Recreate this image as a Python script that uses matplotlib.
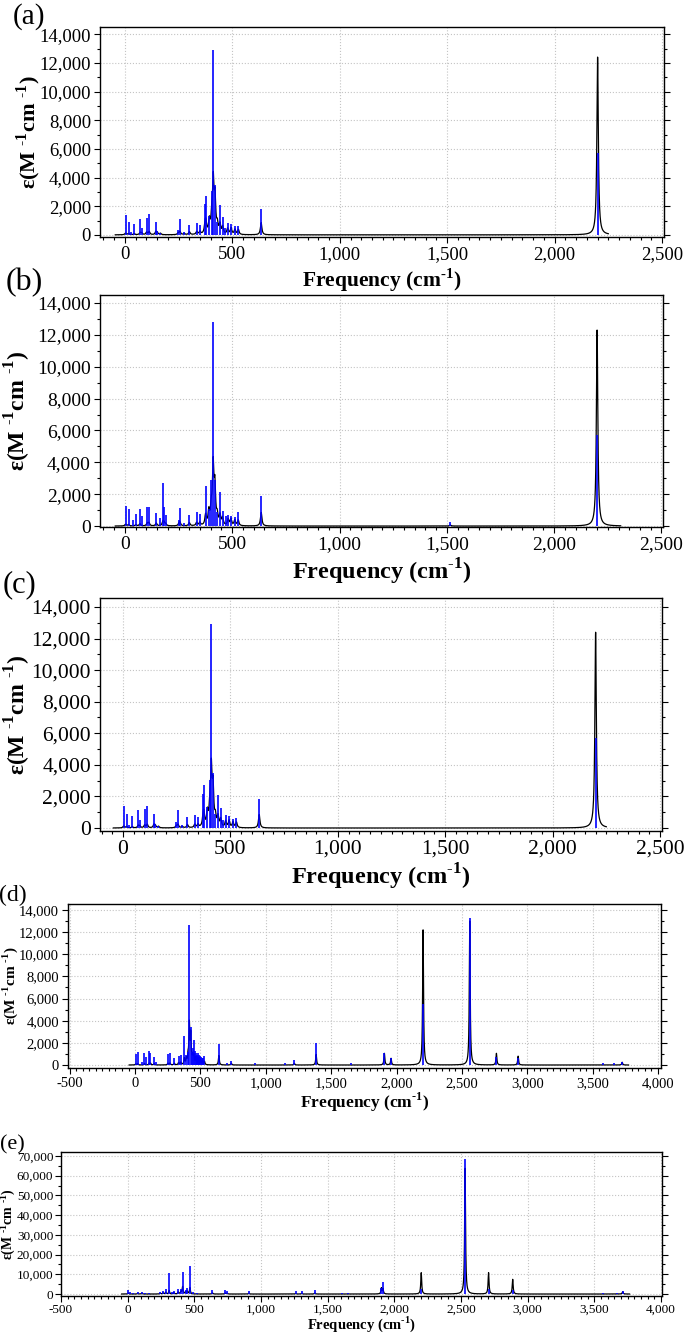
import numpy as np
import matplotlib
matplotlib.use('Agg')
import matplotlib.pyplot as plt
from matplotlib.ticker import MultipleLocator, FuncFormatter

plt.rcParams['font.family'] = ['Liberation Serif', 'DejaVu Serif']
plt.rcParams['mathtext.fontset'] = 'custom'
plt.rcParams['mathtext.rm'] = 'Liberation Serif'
plt.rcParams['mathtext.bf'] = 'Liberation Serif:bold'

# ---- data ----
# (a) and (c) show the same spectrum
stick_freq_a = [3, 17, 30, 43, 71, 78, 101, 113, 144, 150, 165, 248, 256, 276, 300,
                334, 349, 373, 377, 393, 404, 411, 419, 430, 442, 455, 465, 478, 494,
                512, 528, 634, 2200]
stick_eps_a = [1400, 880, 200, 790, 1140, 490, 1180, 1420, 900, 250, 150, 370, 1140,
               200, 700, 840, 670, 2180, 2700, 1300, 3040, 12900, 3500, 900, 2070,
               1250, 500, 840, 770, 600, 650, 1830, 5700]
band_freq_a = [3, 17, 43, 71, 78, 101, 113, 144, 150, 165, 248, 256, 276, 300, 334,
               349, 373, 377, 393, 404, 411, 419, 430, 442, 455, 478, 494, 512, 528,
               634, 2200]
band_eps_a = [120, 90, 80, 150, 120, 180, 220, 200, 150, 100, 120, 220, 80, 200, 200,
              200, 600, 700, 900, 1000, 3600, 2400, 600, 650, 500, 400, 450, 350, 350,
              850, 12400]

stick_freq_b = [3, 17, 39, 51, 70, 81, 104, 112, 146, 165, 177, 182, 190, 252, 256,
                276, 300, 334, 349, 376, 391, 402, 411, 419, 430, 443, 455, 470, 481,
                494, 512, 528, 635, 1516, 2200]
stick_eps_b = [1240, 1050, 360, 780, 1090, 630, 1200, 1200, 840, 520, 2710, 1200, 670,
               360, 1110, 200, 670, 880, 735, 2520, 1090, 2920, 12780, 2880, 900, 2140,
               920, 600, 670, 610, 570, 880, 1870, 250, 5710]
band_freq_b = [3, 17, 51, 70, 104, 112, 146, 177, 182, 190, 252, 256, 300, 334, 349,
               376, 391, 402, 411, 419, 430, 443, 455, 481, 494, 512, 528, 635, 1516,
               2200]
band_eps_b = [110, 90, 80, 140, 180, 200, 180, 250, 200, 120, 120, 220, 200, 200, 200,
              650, 850, 1000, 3650, 2300, 550, 600, 450, 400, 420, 350, 350, 850, 60,
              12300]

stick_freq_d = [5, 20, 51, 72, 82, 108, 118, 146, 160, 251, 267, 300, 333, 349, 377,
                392, 405, 415, 426, 435, 440, 449, 455, 464, 470, 476, 482, 487, 492,
                500, 507, 515, 522, 531, 641, 705, 736, 920, 1149, 1218, 1385, 1654,
                1907, 1958, 2203, 2560, 2764, 2930, 3581, 3660, 3726]
stick_eps_d = [990, 1200, 300, 1050, 750, 1260, 1110, 690, 300, 990, 1050, 600, 810,
               900, 2650, 900, 1200, 12650, 3460, 1200, 1500, 2300, 1300, 1050, 900,
               800, 1050, 700, 900, 800, 700, 600, 600, 810, 1900, 200, 390, 200, 200,
               450, 1960, 200, 1110, 660, 5550, 13280, 700, 600, 150, 150, 300]
band_freq_d = [5, 20, 72, 108, 118, 146, 251, 267, 300, 333, 349, 377, 392, 405, 415,
               426, 440, 449, 464, 482, 500, 515, 531, 641, 736, 1218, 1385, 1907,
               1958, 2203, 2560, 2764, 2930, 3726]
band_eps_d = [100, 120, 130, 180, 160, 120, 150, 180, 150, 200, 220, 550, 500, 700,
              3600, 2600, 700, 750, 600, 550, 450, 350, 300, 850, 150, 150, 950, 1050,
              600, 12200, 13000, 1050, 800, 250]

stick_freq_e = [5, 20, 40, 76, 106, 130, 160, 245, 265, 285, 311, 330, 346, 379, 399,
                412, 434, 447, 467, 490, 520, 636, 732, 745, 909, 1260, 1305, 1404,
                1604, 1654, 1903, 1915, 2202, 2531, 2707, 2888, 3568, 3673, 3713]
stick_eps_e = [2030, 800, 600, 1000, 1180, 600, 500, 1180, 1690, 2540, 10820, 1000,
               1690, 2370, 2370, 11330, 2030, 2880, 14200, 800, 600, 2030, 2030, 1690,
               1690, 1520, 1520, 2030, 500, 400, 3000, 5900, 2500, 68300, 2500, 2000,
               400, 400, 1500]
band_freq_e = [5, 76, 106, 245, 265, 285, 311, 346, 379, 399, 412, 434, 447, 467, 636,
               732, 745, 909, 1260, 1305, 1404, 1903, 1915, 2202, 2531, 2707, 2888,
               3713]
band_eps_e = [500, 300, 400, 400, 600, 900, 1800, 700, 1000, 1200, 3700, 1000, 1300,
              3200, 600, 500, 450, 400, 300, 300, 500, 3000, 2600, 10800, 63700, 10800,
              7440, 1200]

HWHM = 4.0

# pixel layout of each panel: left, right, top, bottom
panels = [
    dict(tag='(a)', sf=stick_freq_a, se=stick_eps_a, bf=band_freq_a, be=band_eps_a,
         span=(-45, 2250), box=(100, 664, 27, 237), xlim=(-116, 2509), ylim=(-150, 14500),
         xmaj=500, ymaj=2000, ymin=1000, tick=13.5, xl=15.5, yl=16, lab=21,
         labpos=(29, 17), xlab_top=266, ylab_right=43, pad=2.5),
    dict(tag='(b)', sf=stick_freq_b, se=stick_eps_b, bf=band_freq_b, be=band_eps_b,
         span=(-45, 2310), box=(100, 663, 295, 527), xlim=(-116, 2507), ylim=(-60, 14500),
         xmaj=500, ymaj=2000, ymin=1000, tick=14, xl=17.5, yl=17, lab=23,
         labpos=(24, 283), xlab_top=557, ylab_right=33, pad=2.5),
    dict(tag='(c)', sf=stick_freq_a, se=stick_eps_a, bf=band_freq_a, be=band_eps_a,
         span=(-45, 2250), box=(100, 662, 598, 831), xlim=(-107, 2509), ylim=(-190, 14570),
         xmaj=500, ymaj=2000, ymin=1000, tick=15.5, xl=17.5, yl=17, lab=22,
         labpos=(20, 585), xlab_top=862, ylab_right=33, pad=2.5),
    dict(tag='(d)', sf=stick_freq_d, se=stick_eps_d, bf=band_freq_d, be=band_eps_d,
         span=(-45, 3775), box=(68, 661, 904, 1068), xlim=(-513, 4023), ylim=(-270, 14540),
         xmaj=500, ymaj=2000, ymin=1000, tick=10.5, xl=12.5, yl=11, lab=17,
         labpos=(13, 895), xlab_top=1091, ylab_right=20, pad=2.5),
    dict(tag='(e)', sf=stick_freq_e, se=stick_eps_e, bf=band_freq_e, be=band_eps_e,
         span=(-45, 3765), box=(61, 662, 1152, 1296), xlim=(-500, 4008), ylim=(-1000, 72000),
         xmaj=500, ymaj=10000, ymin=5000, tick=9.5, xl=10.5, yl=10, lab=16,
         labpos=(12, 1145), xlab_top=1314, ylab_right=17, pad=1.5),
]

W, H = 685, 1333
fig = plt.figure(figsize=(W / 100, H / 100), dpi=100)
fmt = FuncFormatter(lambda v, p: f'{int(round(v)):,}')
sup = r'$^{\mathbf{\text{-}1}}$'

for p in panels:
    L, R, T, B = p['box']
    ax = fig.add_axes([L / W, 1 - B / H, (R - L) / W, (B - T) / H])

    x = np.arange(p['span'][0], p['span'][1], 0.25)
    y = np.zeros_like(x)
    for f, e in zip(p['bf'], p['be']):
        y += e * HWHM ** 2 / ((x - f) ** 2 + HWHM ** 2)
    ax.plot(x, y, color='black', lw=0.9, zorder=2)
    ax.vlines(p['sf'], 0, p['se'], colors='#0000ff', lw=1.2, zorder=3)

    ax.set_xlim(*p['xlim'])
    ax.set_ylim(*p['ylim'])
    ax.xaxis.set_major_locator(MultipleLocator(p['xmaj']))
    ax.xaxis.set_minor_locator(MultipleLocator(50))
    ax.yaxis.set_major_locator(MultipleLocator(p['ymaj']))
    ax.yaxis.set_minor_locator(MultipleLocator(p['ymin']))
    ax.xaxis.set_major_formatter(fmt)
    ax.yaxis.set_major_formatter(fmt)
    ax.tick_params(which='both', direction='out', top=False, right=True,
                   labelsize=p['tick'], width=0.8, pad=p['pad'])
    ax.tick_params(which='major', length=4)
    ax.tick_params(which='minor', length=2.5)
    ax.grid(True, which='major', color='#c4c4c4', linestyle=':', linewidth=0.8)
    for s in ax.spines.values():
        s.set_linewidth(1.0)

    ax.set_xlabel('Frequency (cm' + sup + ')', fontsize=p['xl'], fontweight='bold')
    ax.xaxis.set_label_coords(0.5, -(p['xlab_top'] - B) / (B - T))
    ax.set_ylabel('ε(M ' + sup + 'cm ' + sup + ')', fontsize=p['yl'], fontweight='bold')
    ax.yaxis.set_label_coords((p['ylab_right'] - L) / (R - L), 0.5)

    fig.text(p['labpos'][0] / W, 1 - p['labpos'][1] / H, p['tag'], fontsize=p['lab'],
             ha='center', va='center')

fig.savefig('out.png', dpi=100)
